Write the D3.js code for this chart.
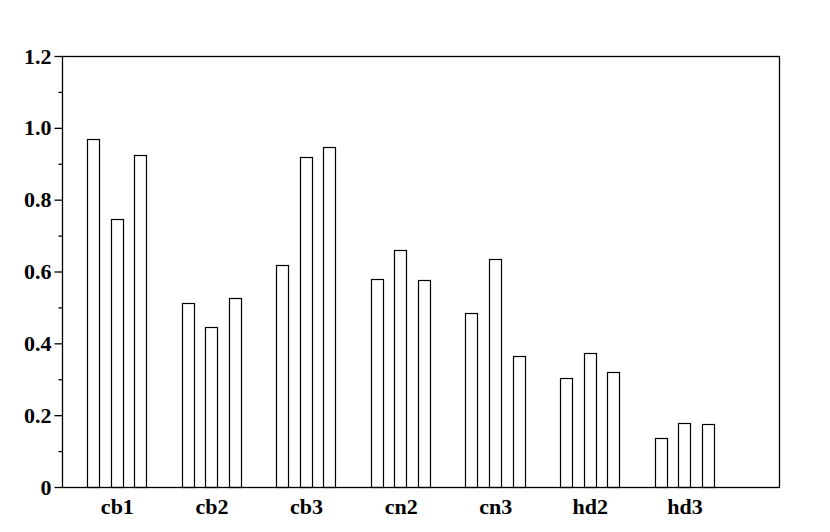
<!DOCTYPE html>
<html>
<head>
<meta charset="utf-8">
<script src="https://cdn.jsdelivr.net/npm/d3@7"></script>
<style>
  body { margin: 0; background: #fff; }
  svg text { font-family: "Liberation Serif", "Times New Roman", serif; font-weight: bold; font-size: 22px; fill: #000; }
</style>
</head>
<body>
<div id="chart"></div>
<script>
// data
var categories = ["cb1", "cb2", "cb3", "cn2", "cn3", "hd2", "hd3"];
var series1 = [0.969, 0.512, 0.618, 0.579, 0.484, 0.303, 0.137];
var series2 = [0.745, 0.446, 0.920, 0.659, 0.635, 0.372, 0.179];
var series3 = [0.923, 0.527, 0.947, 0.575, 0.365, 0.319, 0.175];
var yTicks = [0, 0.2, 0.4, 0.6, 0.8, 1.0, 1.2];
var yMinor = [0.1, 0.3, 0.5, 0.7, 0.9, 1.1];

var allSeries = [series1, series2, series3];

var margin = {top: 56, right: 51, bottom: 45, left: 62}
  , width = 830 - margin.left - margin.right
  , height = 532 - margin.top - margin.bottom;

var svg = d3.select("#chart").append("svg")
    .attr("width", 830)
    .attr("height", 532)
  .append("g")
    .attr("transform", "translate(" + margin.left + "," + margin.top + ")");

// categories sit at 1..7 on a linear axis
var xScale = d3.scaleLinear()
    .domain([0.42, 8])
    .range([0, width]);

var yScale = d3.scaleLinear()
    .domain([0, 1.2])
    .range([height, 0]);

var offset = 0.25, barW = 0.132;

// bars
var bars = [];
allSeries.forEach(function(s, j) {
  s.forEach(function(v, i) {
    bars.push({cat: i + 1, k: j - 1, value: v});
  });
});

svg.selectAll(".bar")
    .data(bars)
    .enter().append("rect")
    .attr("class", "bar")
    .attr("x", function(d) { return Math.round(xScale(d.cat + d.k * offset - barW / 2)) + 0.5; })
    .attr("width", Math.round(xScale(barW) - xScale(0)))
    .attr("y", function(d) { return Math.round(yScale(d.value)) + 0.5; })
    .attr("height", function(d) { return Math.round(height - yScale(d.value)); })
    .attr("fill", "#fff")
    .attr("stroke", "#000")
    .attr("stroke-width", 1.2);

// frame
svg.append("rect")
    .attr("x", 0.5)
    .attr("y", 0.5)
    .attr("width", width)
    .attr("height", height)
    .attr("fill", "none")
    .attr("stroke", "#000")
    .attr("stroke-width", 1.3);

// y axis
var yAxis = svg.append("g")
    .attr("class", "y axis")
    .attr("transform", "translate(0.5,0)")
    .call(d3.axisLeft(yScale)
      .tickValues(yTicks)
      .tickSize(8)
      .tickPadding(3)
      .tickFormat(function(d) { return d === 0 ? "0" : d3.format(".1f")(d); }));
yAxis.select(".domain").remove();
yAxis.selectAll("line").attr("stroke", "#000").attr("stroke-width", 1.3);
yAxis.selectAll("text").style("font-size", "22px");

var yAxisMinor = svg.append("g")
    .attr("class", "y axis minor")
    .attr("transform", "translate(0.5,0)")
    .call(d3.axisLeft(yScale).tickValues(yMinor).tickSize(4).tickFormat(""));
yAxisMinor.select(".domain").remove();
yAxisMinor.selectAll("line").attr("stroke", "#000").attr("stroke-width", 1.3);

// x axis labels only, no ticks
var xAxis = svg.append("g")
    .attr("class", "x axis")
    .attr("transform", "translate(0," + height + ")")
    .call(d3.axisBottom(xScale)
      .tickValues(d3.range(1, categories.length + 1))
      .tickSize(0)
      .tickPadding(11)
      .tickFormat(function(d) { return categories[d - 1]; }));
xAxis.select(".domain").remove();
xAxis.selectAll("text").style("font-size", "22px");
</script>
</body>
</html>
